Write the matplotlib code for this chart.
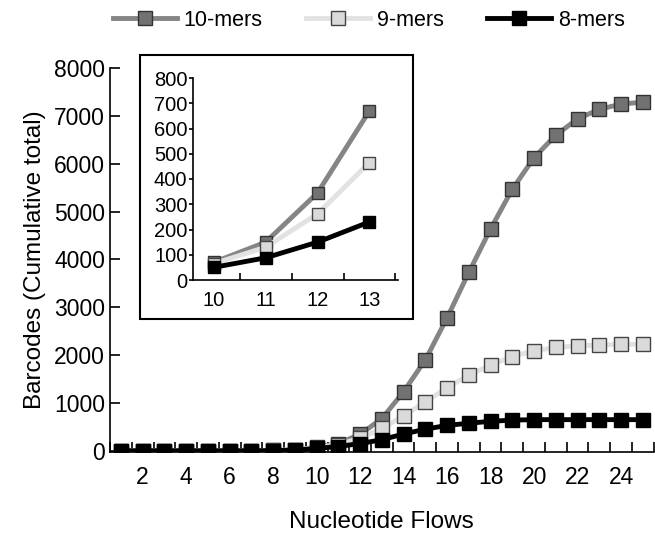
import numpy as np
import matplotlib
matplotlib.use("Agg")
from matplotlib import pyplot as plt
from matplotlib.patches import Rectangle

plt.rcParams['font.family'] = ['Liberation Sans', 'DejaVu Sans']

# data
flows = np.arange(1, 26)
mers10 = [0, 0, 0, 0, 0, 0, 0, 5, 20, 70, 150, 345, 670, 1235, 1900, 2780,
          3730, 4640, 5470, 6130, 6600, 6940, 7140, 7250, 7290]
mers9 = [0, 0, 0, 0, 0, 0, 0, 5, 18, 65, 130, 262, 465, 730, 1020, 1320,
         1580, 1790, 1970, 2090, 2160, 2195, 2210, 2225, 2230]
mers8 = [0, 0, 0, 0, 0, 0, 0, 3, 12, 50, 88, 150, 230, 350, 450, 530,
         575, 615, 640, 650, 650, 650, 650, 650, 650]

inset_flows = [10, 11, 12, 13]
series = [
    ("10-mers", mers10, "#858585", "#727272", "#333333"),
    ("9-mers", mers9, "#e2e2e2", "#dadada", "#444444"),
    ("8-mers", mers8, "#000000", "#000000", "#000000"),
]

fig = plt.figure(figsize=(6.55, 5.37), dpi=100)

# 1. main chart
ax = fig.add_axes([0.168, 0.158, 0.83, 0.715])
handles = []
for name, vals, lc, fc, ec in series:
    h, = ax.plot(flows, vals, color=lc, lw=3.5, marker="s", ms=10,
                 mfc=fc, mec=ec, mew=1.0, label=name)
    handles.append(h)

ax.set_xlim(0.5, 25.5)
ax.set_ylim(-30, 8000)
ax.set_yticks(np.arange(0, 8001, 1000))
ax.set_xticks(np.arange(2, 25, 2))
ax.set_xticks(np.arange(0.5, 25.6, 1), minor=True)
ax.tick_params(axis="x", which="major", length=0, labelsize=16.5, pad=10)
ax.tick_params(axis="x", which="minor", direction="in", length=7, width=1.2)
ax.tick_params(axis="y", direction="in", length=7, width=1.2, labelsize=16.5)
for s in ["top", "right"]:
    ax.spines[s].set_visible(False)
for s in ["left", "bottom"]:
    ax.spines[s].set_linewidth(1.2)
ax.set_xlabel("Nucleotide Flows", fontsize=17.5, labelpad=16)
ax.set_ylabel("Barcodes (Cumulative total)", fontsize=17.5, labelpad=6)

# 2. inset box and inset axes
fig.patches.append(Rectangle((140 / 655, 1 - 319 / 537), 273 / 655, 264 / 537,
                             transform=fig.transFigure, fill=True,
                             facecolor="white", edgecolor="black", lw=1.5,
                             zorder=2))
ins = fig.add_axes([193 / 655, 1 - 280 / 537, 205 / 655, 202 / 537], zorder=3)
for name, vals, lc, fc, ec in series:
    ins.plot(inset_flows, vals[9:13], color=lc, lw=3.5, marker="s", ms=9,
             mfc=fc, mec=ec, mew=1.0)
ins.set_xlim(9.6, 13.55)
ins.set_ylim(0, 800)
ins.set_yticks(np.arange(0, 801, 100))
ins.set_xticks(inset_flows)
ins.set_xticks([10.5, 11.5, 12.5, 13.5], minor=True)
ins.tick_params(axis="x", which="major", length=0, labelsize=14.5, pad=8)
ins.tick_params(axis="x", which="minor", direction="in", length=5, width=1.2)
ins.tick_params(axis="y", direction="out", length=3, width=1.2, labelsize=14.5, pad=1)
for s in ["top", "right"]:
    ins.spines[s].set_visible(False)
for s in ["left", "bottom"]:
    ins.spines[s].set_linewidth(1.2)

# 3. legend on top
fig.legend(handles=handles, loc="upper center", bbox_to_anchor=(0.563, 1.018),
           ncol=3, frameon=False, fontsize=15.5, handlelength=3.0,
           columnspacing=2.0, handletextpad=0.3)

fig.savefig("out.png", dpi=100)
